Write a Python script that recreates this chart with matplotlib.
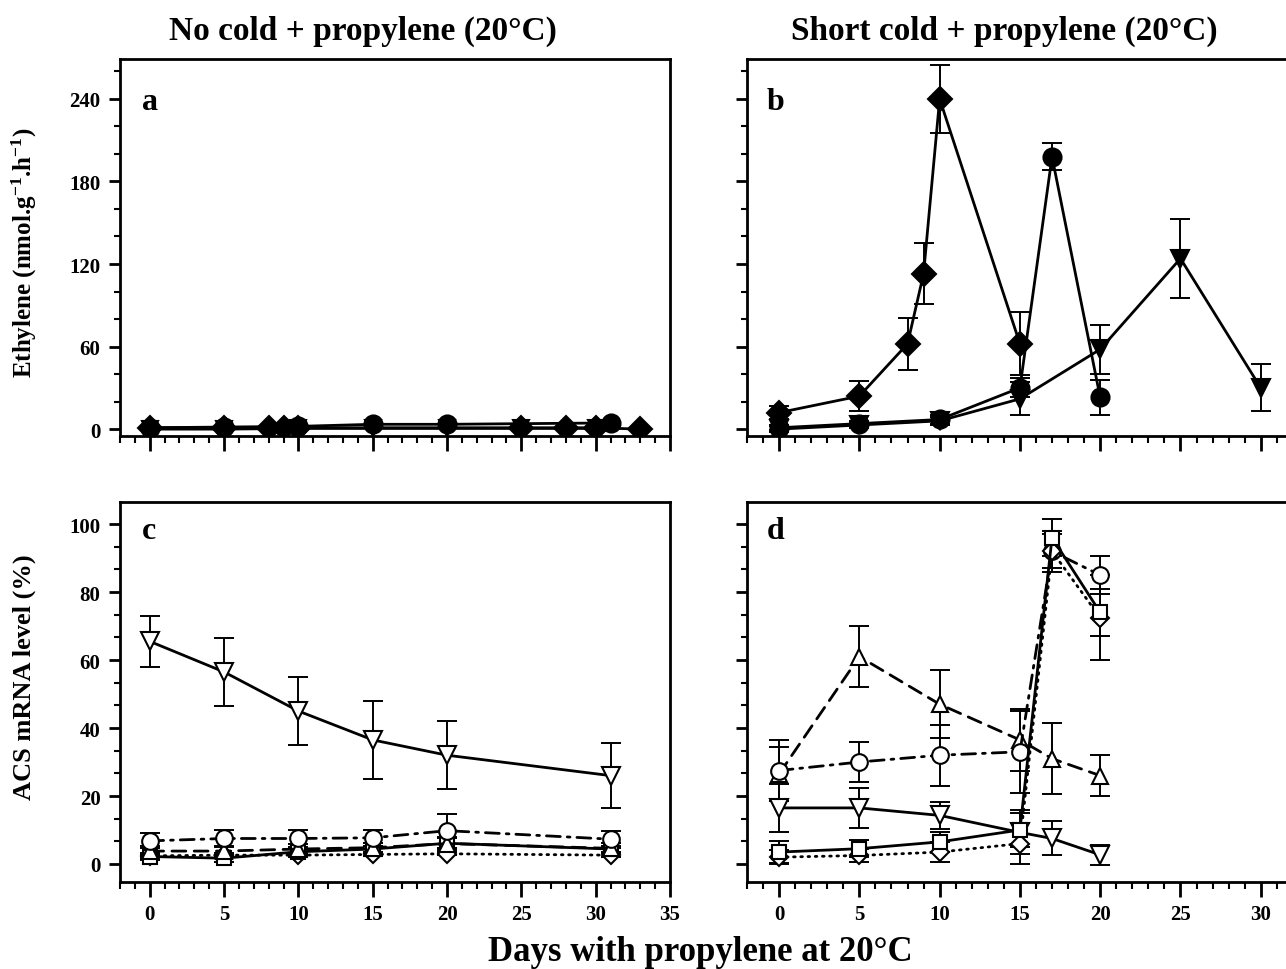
import numpy as np
import matplotlib
matplotlib.use("Agg")
import matplotlib.pyplot as plt
from matplotlib.ticker import MultipleLocator, AutoMinorLocator

plt.rcParams['font.family'] = ['Liberation Serif', 'DejaVu Serif']
plt.rcParams['font.weight'] = 'bold'
plt.rcParams['mathtext.fontset'] = 'custom'
plt.rcParams['mathtext.rm'] = 'Liberation Serif:bold'
plt.rcParams['mathtext.bf'] = 'Liberation Serif:bold'
plt.rcParams['mathtext.it'] = 'Liberation Serif:bold'

# ---- panel a: no cold, ethylene ----
a_dia_x = [0, 5, 8, 9, 10, 25, 28, 30, 33]
a_dia_y = [1, 1, 1, 1, 1, 1, 1, 1, 0]
a_cir_x = [0, 5, 10, 15, 20, 31]
a_cir_y = [1, 1.5, 2, 3.5, 3.5, 4.5]
a_tri_x = [0, 5, 10, 15, 20, 25, 30]
a_tri_y = [0, 0, 0.5, 0.5, 0.5, 0.5, 0.5]

# ---- panel b: short cold, ethylene ----
b_dia_x = [0, 5, 8, 9, 10, 15]
b_dia_y = [12, 24, 62, 113, 240, 62]
b_dia_e = [5, 11, 19, 22, 25, 23]
b_cir_x = [0, 5, 10, 15, 17, 20]
b_cir_y = [1, 4, 7, 30, 198, 23]
b_cir_e = [2, 2, 3, 7, 10, 13]
b_tri_x = [0, 5, 10, 15, 20, 25, 30]
b_tri_y = [0, 3, 6, 22, 58, 124, 30]
b_tri_e = [2, 2, 3, 12, 18, 29, 17]

# ---- panel c: no cold, ACS mRNA ----
c_x = [0, 5, 10, 15, 20, 31]
c_tdown = [65.5, 56.5, 45, 36.5, 32, 26]
c_tdown_e = [7.5, 10, 10, 11.5, 10, 9.5]
c_circ = [6.8, 7.5, 7.5, 7.7, 9.8, 7.3]
c_circ_e = [2.2, 2.5, 2.5, 2.3, 5, 2.5]
c_tup = [3.8, 3.8, 4.4, 4.8, 6.0, 4.6]
c_tup_e = [1.5, 1.5, 1.5, 1.5, 2, 1.5]
c_sq = [2.2, 1.7, 3.6, 4.4, 6.1, 4.4]
c_sq_e = [1, 1, 1, 1, 1.5, 1]
c_dia = [2.4, 2.6, 2.6, 2.8, 3.0, 2.6]
c_dia_e = [0.5, 0.5, 0.5, 0.5, 0.5, 0.5]

# ---- panel d: short cold, ACS mRNA ----
d_x = [0, 5, 10, 15, 17, 20]
d_tup = [26.5, 61, 47, 36.5, 31, 26]
d_tup_e = [8, 9, 10, 9, 10.5, 6]
d_circ = [27.5, 30, 32, 33, 92, 85]
d_circ_e = [9, 6, 9, 12, 5, 5.5]
d_sq = [3.5, 4.5, 6.5, 10, 96, 74]
d_sq_e = [3.3, 2.5, 3, 5, 5.5, 7]
d_dia = [2, 2.5, 3.5, 6, 92, 72.5]
d_dia_e = [2, 2, 3, 6, 6, 12.5]
d_tdown = [16.5, 16.5, 14.3, 9.3, 7.5, 2.7]
d_tdown_e = [7, 6, 4, 6.5, 5, 3]

day_ticks = [0, 5, 10, 15, 20, 25, 30, 35]
day_labels_d = ['0', '5', '10', '15', '20', '25', '30', '']

W, H = 1286, 970
fig = plt.figure(figsize=(W / 100, H / 100), dpi=100)


def px_axes(left, top, right, bottom):
    return fig.add_axes([left / W, 1 - bottom / H, (right - left) / W, (bottom - top) / H])


SOLID = '-'
DASH = (0, (5, 3))
DASHDOT = (0, (5, 2.5, 1, 2.5))
DOT = (0, (0.6, 2))


def series(ax, x, y, err, marker, ls, filled, ms):
    if err is not None:
        ax.errorbar(x, y, yerr=err, fmt='none', ecolor='k', elinewidth=1.4,
                    capsize=7, capthick=1.4, zorder=2)
    ax.plot(x, y, color='k', ls=ls, lw=2, marker=marker, ms=ms,
            mfc='k' if filled else 'w', mec='k', mew=1.5, zorder=3,
            dash_capstyle='round')


def style(ax, ylim, ymajor, xlabels):
    ax.set_xlim(-2, 35)
    ax.set_ylim(*ylim)
    ax.set_xticks(day_ticks)
    ax.xaxis.set_minor_locator(MultipleLocator(1))
    ax.yaxis.set_major_locator(MultipleLocator(ymajor))
    ax.yaxis.set_minor_locator(AutoMinorLocator(3))
    for s in ax.spines.values():
        s.set_linewidth(2)
    ax.tick_params(axis='x', which='major', direction='out', length=11, width=2,
                   labelsize=15, pad=5, labelbottom=xlabels)
    ax.tick_params(axis='x', which='minor', direction='out', length=5, width=1.5)
    ax.tick_params(axis='y', which='major', direction='out', length=8, width=2,
                   labelsize=15, pad=6)
    ax.tick_params(axis='y', which='minor', direction='out', length=4, width=1.5)


def letter(ax, s, x, y):
    ax.text(x, y, s, transform=ax.transAxes, fontsize=23,
            fontweight='bold', va='center', ha='left')


# panel a
ax_a = px_axes(120, 60, 670, 437)
series(ax_a, a_tri_x, a_tri_y, None, 'v', SOLID, True, 12)
series(ax_a, a_dia_x, a_dia_y, None, 'D', SOLID, True, 12)
series(ax_a, a_cir_x, a_cir_y, None, 'o', SOLID, True, 13)
style(ax_a, (-5, 269), 60, False)
letter(ax_a, 'a', 0.040, 0.886)

# panel b
ax_b = px_axes(747, 60, 1341, 437)
series(ax_b, b_tri_x, b_tri_y, b_tri_e, 'v', SOLID, True, 13)
series(ax_b, b_cir_x, b_cir_y, b_cir_e, 'o', SOLID, True, 13)
series(ax_b, b_dia_x, b_dia_y, b_dia_e, 'D', SOLID, True, 12.5)
style(ax_b, (-5, 269), 60, False)
ax_b.set_yticklabels([])
letter(ax_b, 'b', 0.033, 0.886)

# panel c
ax_c = px_axes(120, 503, 670, 883)
series(ax_c, c_x, c_dia, c_dia_e, 'D', DOT, False, 9)
series(ax_c, c_x, c_sq, c_sq_e, 's', SOLID, False, 10)
series(ax_c, c_x, c_tup, c_tup_e, '^', DASH, False, 12)
series(ax_c, c_x, c_circ, c_circ_e, 'o', DASHDOT, False, 12)
series(ax_c, c_x, c_tdown, c_tdown_e, 'v', SOLID, False, 13)
style(ax_c, (-5.3, 106.5), 20, True)
letter(ax_c, 'c', 0.040, 0.924)

# panel d
ax_d = px_axes(747, 503, 1341, 883)
series(ax_d, d_x, d_tdown, d_tdown_e, 'v', SOLID, False, 13)
series(ax_d, d_x, d_tup, d_tup_e, '^', DASH, False, 12)
series(ax_d, d_x, d_circ, d_circ_e, 'o', DASHDOT, False, 12)
series(ax_d, d_x, d_dia, d_dia_e, 'D', DOT, False, 9)
series(ax_d, d_x, d_sq, d_sq_e, 's', SOLID, False, 10)
style(ax_d, (-5.3, 106.5), 20, True)
ax_d.set_xticklabels(day_labels_d)
ax_d.set_yticklabels([])
letter(ax_d, 'd', 0.033, 0.924)

fig.text(363 / W, 1 - 31 / H, 'No cold + propylene (20°C)', ha='center', va='center',
         fontsize=24, fontweight='bold')
fig.text(1004 / W, 1 - 31 / H, 'Short cold + propylene (20°C)', ha='center', va='center',
         fontsize=24, fontweight='bold')
fig.text(24 / W, 1 - 253 / H, r'Ethylene (nmol.g$^{-1}$.h$^{-1}$)', rotation=90,
         ha='center', va='center', fontsize=18, fontweight='bold')
fig.text(24 / W, 1 - 677 / H, 'ACS mRNA level (%)', rotation=90,
         ha='center', va='center', fontsize=19, fontweight='bold')
fig.text(700 / W, 1 - 953 / H, 'Days with propylene at 20°C', ha='center', va='center',
         fontsize=25, fontweight='bold')

fig.savefig('out.png', dpi=100)
